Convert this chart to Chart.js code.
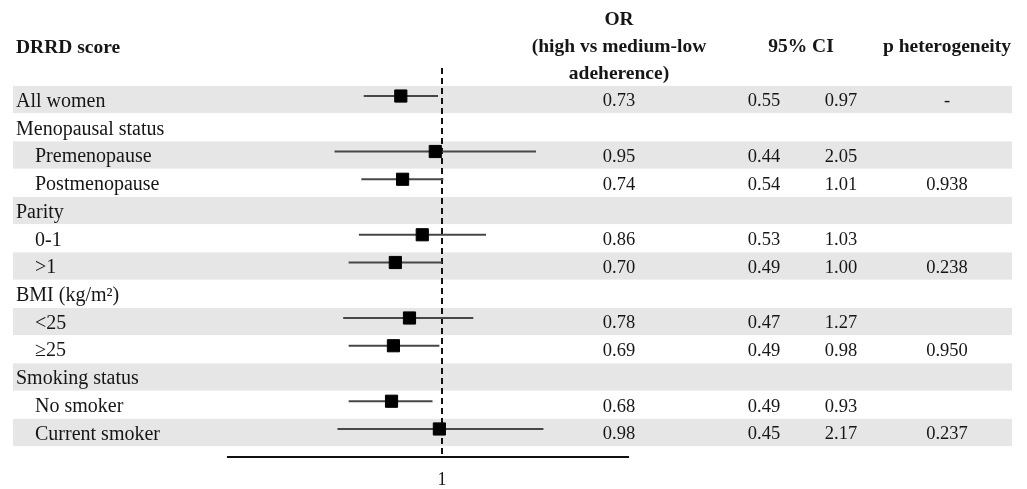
<!DOCTYPE html>
<html>
<head>
<meta charset="utf-8">
<title>DRRD score forest plot</title>
<script src="https://cdn.jsdelivr.net/npm/chart.js@4.4.1/dist/chart.umd.min.js"></script>
<style>
  html, body { margin: 0; padding: 0; background: #fff; }
  canvas { display: block; }
</style>
</head>
<body>
<canvas id="forest" width="1027" height="489"></canvas>
<script>
// Forest plot: DRRD score, high vs medium-low adherence

// rows, top to bottom
const rowLabels = [
  'All women', 'Menopausal status', 'Premenopause', 'Postmenopause',
  'Parity', '0-1', '>1', 'BMI (kg/m²)', '<25', '≥25',
  'Smoking status', 'No smoker', 'Current smoker'
];
const rowLevel = [0, 0, 1, 1, 0, 1, 1, 0, 1, 1, 0, 1, 1];

// table values as printed
const orValues = [0.73, null, 0.95, 0.74, null, 0.86, 0.70, null, 0.78, 0.69, null, 0.68, 0.98];
const ciLow    = [0.55, null, 0.44, 0.54, null, 0.53, 0.49, null, 0.47, 0.49, null, 0.49, 0.45];
const ciHigh   = [0.97, null, 2.05, 1.01, null, 1.03, 1.00, null, 1.27, 0.98, null, 0.93, 2.17];
const pHet     = ['-', '', '', '0.938', '', '', '0.238', '', '', '0.950', '', '', '0.237'];

// upper whisker ends as drawn in the figure (0-1 row is drawn out to ~1.40)
const whiskerHigh = [0.97, null, 2.05, 1.01, null, 1.40, 1.00, null, 1.27, 0.98, null, 0.93, 2.17];

const xTicks = [1];

const headerLeft = 'DRRD score';
const headerOR = ['OR', '(high vs medium-low', 'adeherence)'];
const headerCI = '95% CI';
const headerP = 'p heterogeneity';

// layout
const Y_MIN = -1.01, Y_MAX = 13.01;
const X_MIN = 0.195, X_MAX = 4.14;
const BAND_SHIFT = 3.5, TEXT_SHIFT = 5.5;
const COL_OR = 619, COL_LO = 764, COL_HI = 841, COL_P = 947;
const SERIF = '"Liberation Serif", "Times New Roman", serif';
const INK = '#161616';

const rows = orValues.map((v, i) => i).filter(i => orValues[i] !== null);

const whiskerSets = rows.map(i => ({
  type: 'scatter',
  showLine: true,
  data: [{ x: ciLow[i], y: i }, { x: whiskerHigh[i], y: i }],
  borderColor: '#474747',
  borderWidth: 2,
  pointRadius: 0
}));

const tablePlugin = {
  id: 'forestTable',
  beforeDraw(chart) {
    const ctx = chart.ctx;
    const ys = chart.scales.y;
    ctx.save();

    // alternating row bands
    ctx.fillStyle = '#e6e6e6';
    rowLabels.forEach((lab, i) => {
      if (i % 2 !== 0) return;
      const cy = ys.getPixelForValue(i) + BAND_SHIFT;
      ctx.fillRect(13, cy - 13.6, 999, 27.2);
    });

    ctx.fillStyle = INK;
    ctx.textBaseline = 'middle';

    // headers
    ctx.font = 'bold 19.5px ' + SERIF;
    ctx.textAlign = 'left';
    ctx.fillText(headerLeft, 16, 48);
    ctx.textAlign = 'center';
    headerOR.forEach((t, k) => ctx.fillText(t, COL_OR, 20 + k * 27));
    ctx.fillText(headerCI, 801, 47);
    ctx.fillText(headerP, COL_P, 47);

    // row labels
    ctx.font = '20px ' + SERIF;
    ctx.textAlign = 'left';
    rowLabels.forEach((lab, i) => {
      const cy = ys.getPixelForValue(i) + TEXT_SHIFT;
      ctx.fillText(lab, rowLevel[i] ? 35 : 16, cy);
    });

    // numeric columns
    ctx.font = '18.5px ' + SERIF;
    ctx.textAlign = 'center';
    rowLabels.forEach((lab, i) => {
      const cy = ys.getPixelForValue(i) + TEXT_SHIFT;
      if (orValues[i] !== null) {
        ctx.fillText(orValues[i].toFixed(2), COL_OR, cy);
        ctx.fillText(ciLow[i].toFixed(2), COL_LO, cy);
        ctx.fillText(ciHigh[i].toFixed(2), COL_HI, cy);
      }
      if (pHet[i]) ctx.fillText(pHet[i], COL_P, cy);
    });

    ctx.restore();
  }
};

new Chart(document.getElementById('forest'), {
  type: 'scatter',
  data: {
    datasets: [
      {
        label: 'OR',
        data: rows.map(i => ({ x: orValues[i], y: i })),
        pointStyle: 'rect',
        pointRadius: 8.6,
        pointBorderWidth: 1,
        backgroundColor: '#000',
        borderColor: '#000'
      },
      ...whiskerSets,
      {
        label: 'reference',
        showLine: true,
        data: [{ x: xTicks[0], y: Y_MIN }, { x: xTicks[0], y: Y_MAX }],
        borderColor: '#111',
        borderWidth: 2,
        borderDash: [6, 4],
        pointRadius: 0
      }
    ]
  },
  options: {
    responsive: false,
    animation: false,
    devicePixelRatio: 1,
    layout: { padding: { left: 228, right: 399, top: 68, bottom: 0 } },
    plugins: { legend: { display: false }, tooltip: { enabled: false } },
    scales: {
      x: {
        type: 'logarithmic',
        min: X_MIN,
        max: X_MAX,
        afterBuildTicks: s => { s.ticks = xTicks.map(v => ({ value: v })); },
        afterFit: s => { s.height = 32; },
        ticks: {
          padding: 12,
          color: INK,
          font: { family: SERIF, size: 18 },
          callback: v => String(v)
        },
        grid: { display: false, drawTicks: false },
        border: { display: true, color: '#111', width: 2 }
      },
      y: {
        type: 'linear',
        reverse: true,
        min: Y_MIN,
        max: Y_MAX,
        display: false
      }
    }
  },
  plugins: [tablePlugin]
});
</script>
</body>
</html>
